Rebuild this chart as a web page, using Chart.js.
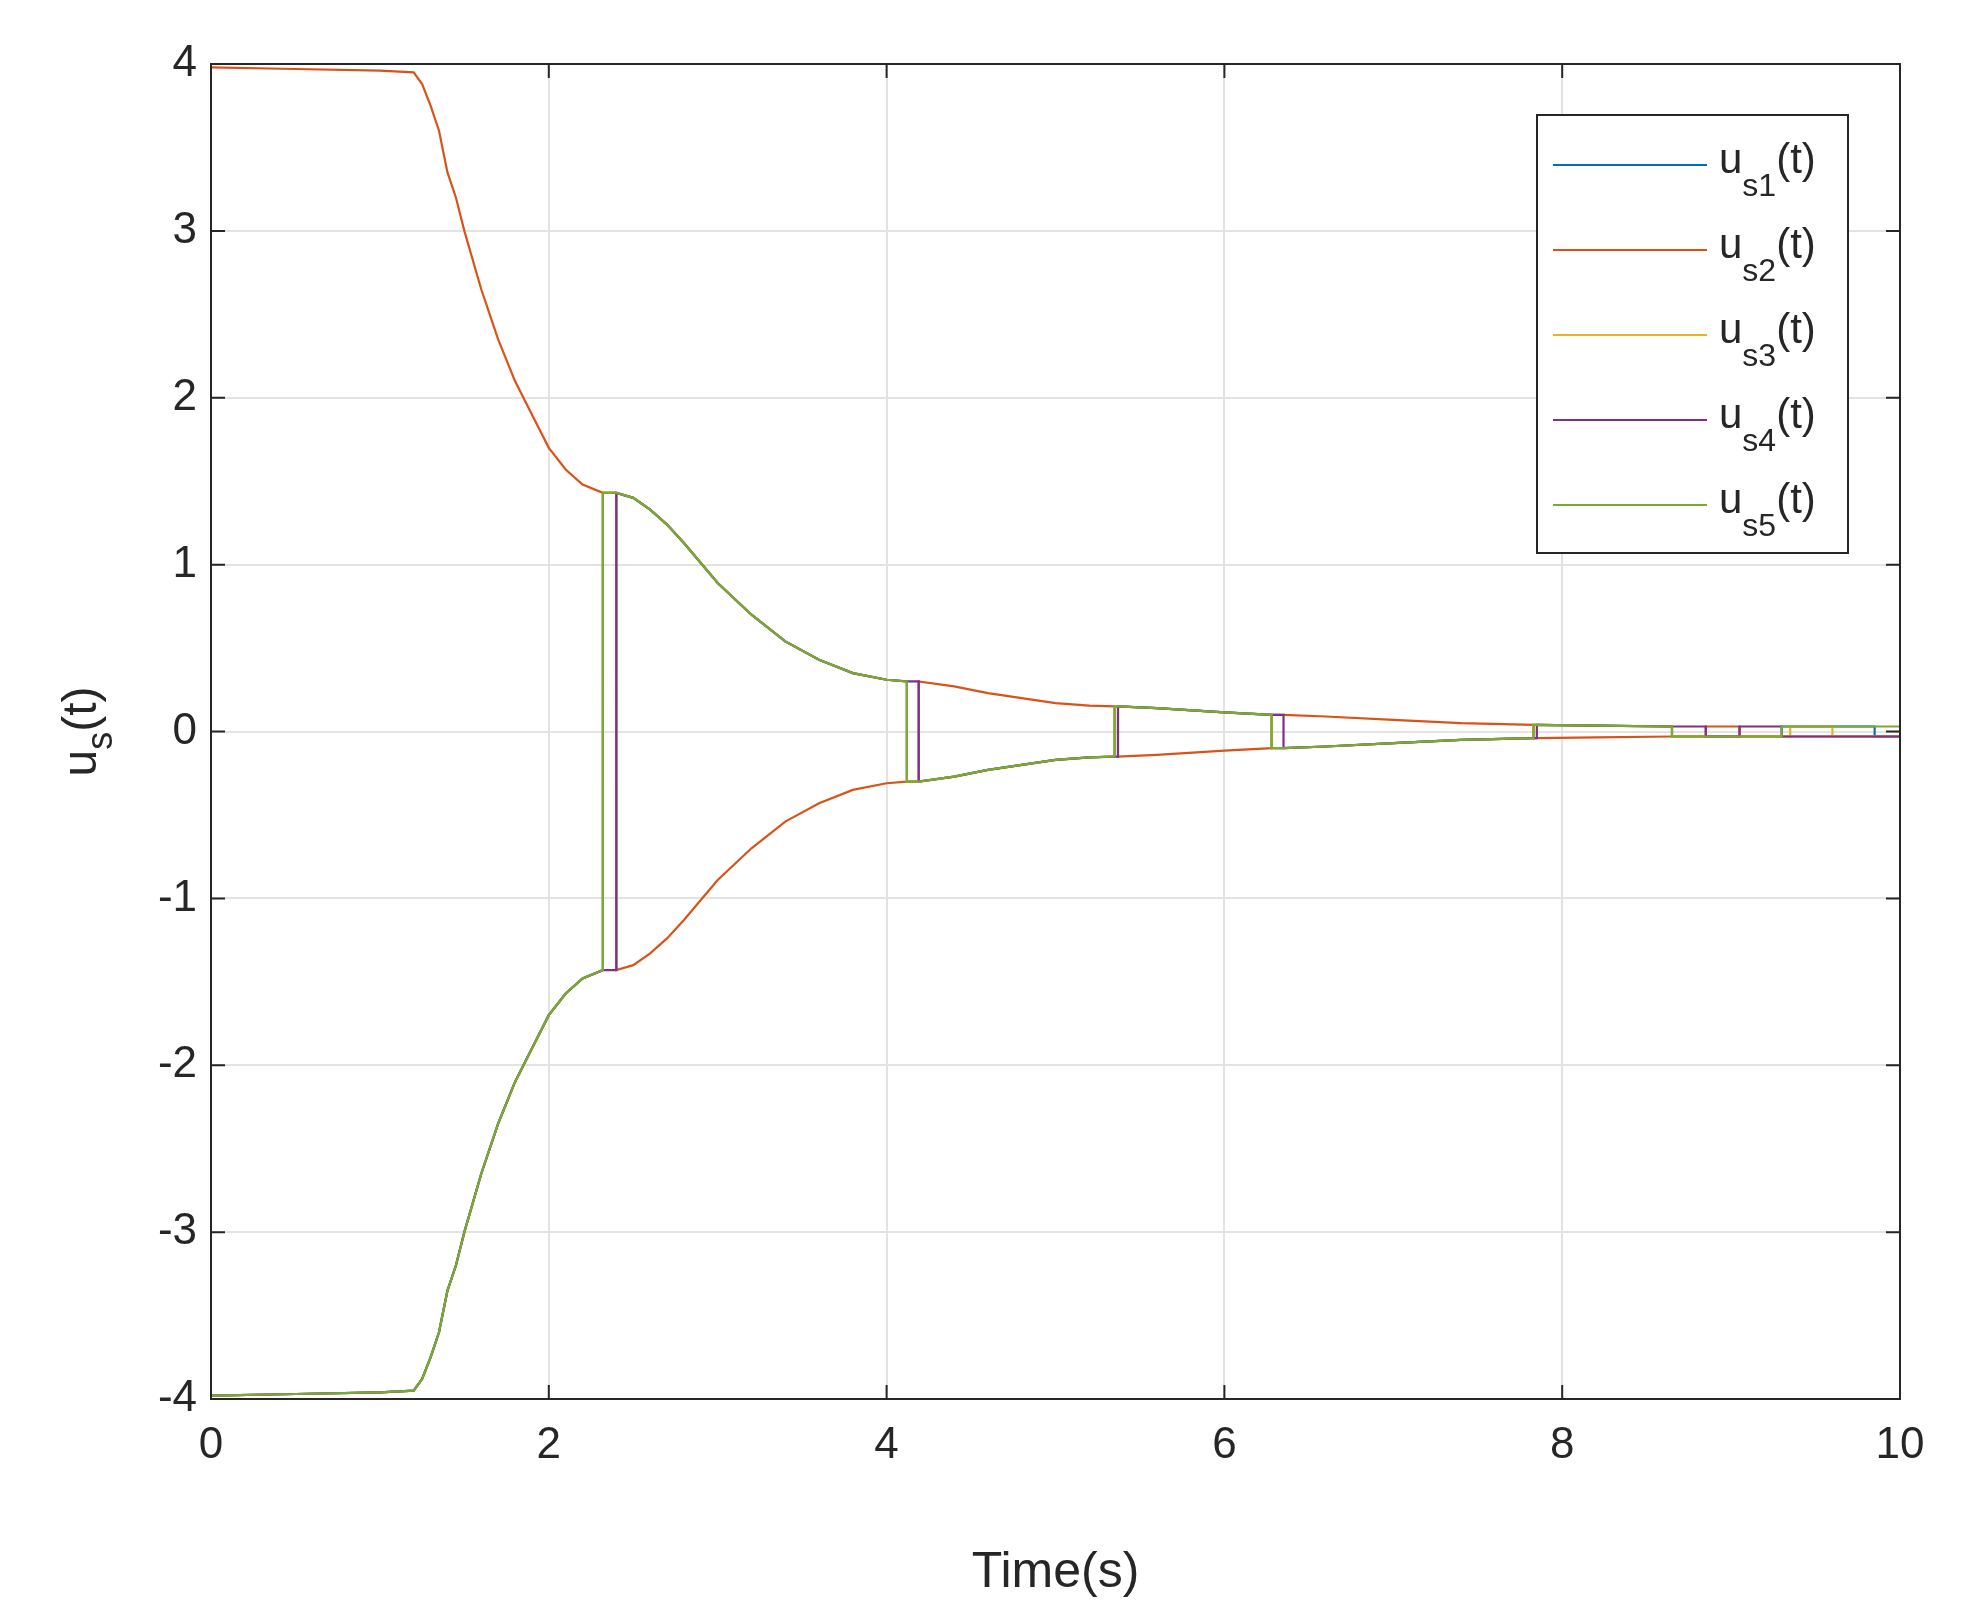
<!DOCTYPE html><html><head><meta charset="utf-8">
<script src="https://cdn.jsdelivr.net/npm/chart.js@4"></script>
<style>html,body{margin:0;padding:0;background:#fff}#w{width:1986px;height:1607px}</style></head>
<body><div id="w"><canvas id="c"></canvas></div><script>
const envT=[0,0.5,1.0,1.2,1.25,1.3,1.35,1.4,1.45,1.5,1.6,1.7,1.8,1.9,2.0,2.1,2.2,2.32,2.4,2.5,2.6,2.7,2.8,2.9,3.0,3.2,3.4,3.6,3.8,4.0,4.12,4.19,4.4,4.6,4.8,5.0,5.2,5.35,5.37,5.6,6.0,6.28,6.35,6.6,7.0,7.4,7.83,7.85,8.2,8.65,8.85,9.05,9.3,9.35,9.6,9.85,10];
const envV=[3.98,3.97,3.96,3.95,3.88,3.75,3.6,3.35,3.2,3.0,2.65,2.35,2.1,1.9,1.7,1.57,1.48,1.43,1.43,1.4,1.33,1.24,1.13,1.01,0.89,0.70,0.54,0.43,0.35,0.31,0.30,0.30,0.27,0.23,0.20,0.17,0.155,0.15,0.15,0.14,0.115,0.10,0.10,0.09,0.07,0.05,0.04,0.04,0.035,0.03,0.03,0.03,0.03,0.03,0.03,0.03,0.03];
const names=['s1','s2','s3','s4','s5'];
const colors=['#0072BD','#D95319','#EDB120','#7E2F8E','#77AC30'];
const startSign=[-1,1,-1,-1,-1];
const switches=[
 [2.32,4.12,5.35,6.28,7.83,8.65,9.3,9.85],
 [2.4,4.19,5.37,6.28,7.83,8.85,9.05],
 [2.32,4.12,5.35,6.28,7.83,8.65,9.35,9.6],
 [2.4,4.19,5.37,6.35,7.85,8.85,9.05,9.3],
 [2.32,4.12,5.35,6.28,7.83,8.65,9.3]];
function build(i){const pts=[];let s=startSign[i];for(let k=0;k<envT.length;k++){const t=envT[k],v=envV[k];pts.push({x:t,y:s*v});if(switches[i].includes(t)){s=-s;pts.push({x:t,y:s*v});}}return pts;}
const datasets=names.map((n,i)=>({label:n,data:build(i),borderColor:colors[i],borderWidth:2.2,pointRadius:0,tension:0,fill:false})).reverse();
datasets.forEach((d,i)=>d.order=i);
const F='"Liberation Sans", Arial, sans-serif';
const deco={id:'deco',afterDraw(ch){const c=ch.ctx,a=ch.chartArea;c.save();
c.strokeStyle='#262626';c.lineWidth=2;c.strokeRect(a.left,a.top,a.right-a.left,a.bottom-a.top);
const xs=ch.scales.x,ys=ch.scales.y;c.beginPath();
for(let v=0;v<=10;v+=2){const p=xs.getPixelForValue(v);c.moveTo(p,a.bottom);c.lineTo(p,a.bottom-14);c.moveTo(p,a.top);c.lineTo(p,a.top+14);}
for(let v=-4;v<=4;v++){const p=ys.getPixelForValue(v);c.moveTo(a.left,p);c.lineTo(a.left+14,p);c.moveTo(a.right,p);c.lineTo(a.right-14,p);}
c.stroke();
c.save();c.translate(96,(a.top+a.bottom)/2);c.rotate(-Math.PI/2);c.fillStyle='#262626';c.textBaseline='alphabetic';
c.font='48px '+F;const w1=c.measureText('u').width;c.font='36px '+F;const w2=c.measureText('s').width;c.font='48px '+F;const w3=c.measureText('(t)').width;
let x0=-(w1+w2+w3)/2;c.fillText('u',x0,0);c.font='36px '+F;c.fillText('s',x0+w1,16);c.font='48px '+F;c.fillText('(t)',x0+w1+w2,0);c.restore();
const L=1537,T=115,W=311,H=438;c.fillStyle='#fff';c.fillRect(L,T,W,H);c.strokeStyle='#262626';c.lineWidth=2;c.strokeRect(L,T,W,H);
for(let i=0;i<5;i++){const y=T+50+i*85;c.strokeStyle=colors[i];c.lineWidth=2.2;c.beginPath();c.moveTo(L+16,y);c.lineTo(L+170,y);c.stroke();
c.fillStyle='#262626';c.font='42px '+F;c.textBaseline='middle';c.fillText('u',L+182,y-4);const uw=c.measureText('u').width;
c.font='32px '+F;const sub='s'+(i+1);c.fillText(sub,L+182+uw,y+22);const sw=c.measureText(sub).width;c.font='42px '+F;c.fillText('(t)',L+182+uw+sw,y-4);}
c.restore();}};
new Chart(document.getElementById('c'),{type:'line',data:{datasets},plugins:[deco],
options:{responsive:true,maintainAspectRatio:false,animation:false,
layout:{padding:{top:64,right:86,left:0,bottom:0}},
plugins:{legend:{display:false},tooltip:{enabled:false}},
scales:{x:{type:'linear',min:0,max:10,afterFit(s){s.height=208;},
ticks:{stepSize:2,color:'#262626',font:{family:F,size:44},padding:20},
grid:{color:'#e3e3e3',lineWidth:2,drawTicks:false},border:{display:false},
title:{display:true,text:'Time(s)',color:'#262626',font:{family:F,size:50},padding:{top:6}}},
y:{min:-4,max:4,afterFit(s){s.width=211;},ticks:{stepSize:1,color:'#262626',font:{family:F,size:44},padding:14},
grid:{color:'#e3e3e3',lineWidth:2,drawTicks:false},border:{display:false}}}}});
</script></body></html>
